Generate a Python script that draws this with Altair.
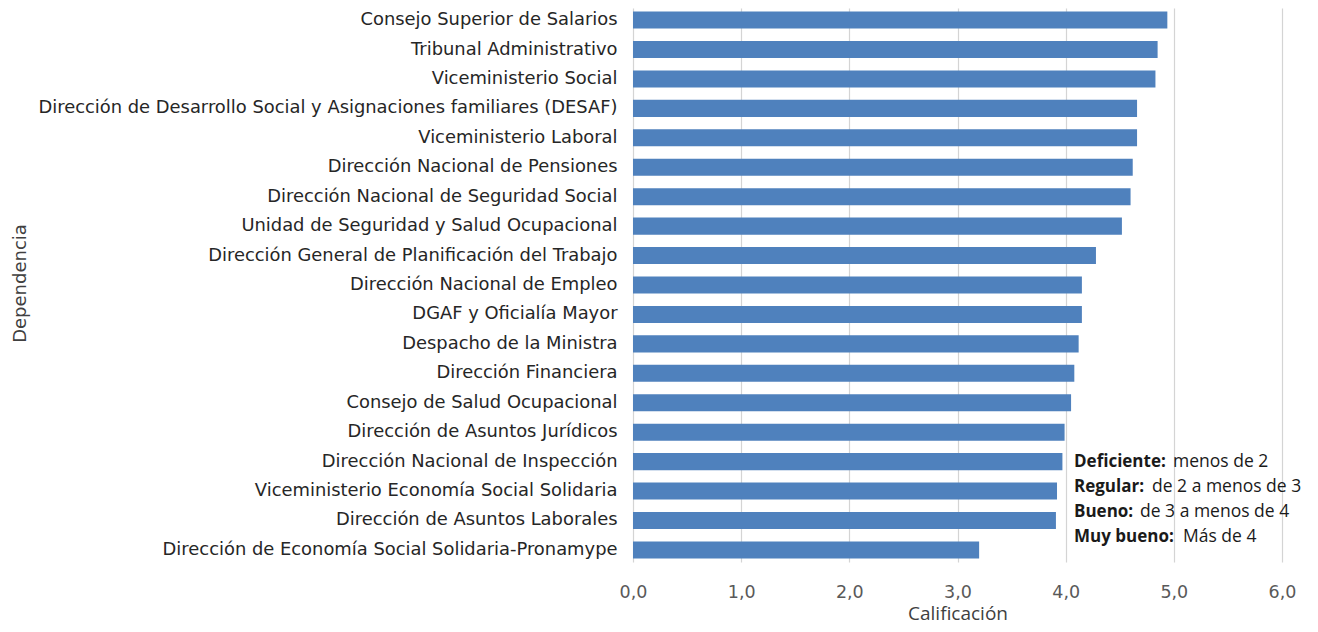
import altair as alt
import pandas as pd

dependencias = [
    "Consejo Superior de Salarios",
    "Tribunal Administrativo",
    "Viceministerio Social",
    "Dirección de Desarrollo Social y Asignaciones familiares (DESAF)",
    "Viceministerio Laboral",
    "Dirección Nacional de Pensiones",
    "Dirección Nacional de Seguridad Social ",
    "Unidad de Seguridad y Salud Ocupacional",
    "Dirección General de Planificación del Trabajo",
    "Dirección Nacional de Empleo",
    "DGAF y Oficialía Mayor",
    "Despacho de la Ministra",
    "Dirección Financiera",
    "Consejo de Salud Ocupacional",
    "Dirección de Asuntos Jurídicos",
    "Dirección Nacional de Inspección",
    "Viceministerio Economía Social Solidaria",
    "Dirección de Asuntos Laborales",
    "Dirección de Economía Social Solidaria-Pronamype",
]
calificacion = [4.94, 4.85, 4.83, 4.66, 4.66, 4.62, 4.60, 4.52, 4.28, 4.15,
                4.15, 4.12, 4.08, 4.05, 3.99, 3.97, 3.92, 3.91, 3.20]

notas_negrita = ["Deficiente:", "Regular:", "Bueno:", "Muy bueno:"]
notas_texto = ["menos de 2", "de 2 a menos de 3", "de 3 a menos de 4", "Más de 4"]
notas_x_texto = [540, 519, 507, 550]

df = pd.DataFrame({"Dependencia": dependencias, "Calificación": calificacion})

W, H = 649, 554

bars = alt.Chart(df).mark_bar(color="#4f81bd").encode(
    x=alt.X(
        "Calificación:Q",
        scale=alt.Scale(domain=[0, 6], nice=False),
        axis=alt.Axis(
            values=[0, 1, 2, 3, 4, 5, 6],
            labelExpr="replace(format(datum.value, '.1f'), '.', ',')",
            grid=True, gridColor="#d4d4d4", gridWidth=1.2,
            domain=False, ticks=False, labelFlush=False,
            labelFont="DejaVu Sans", labelFontSize=17.5, labelColor="#595959",
            labelPadding=21,
            title="Calificación", titleFont="Open Sans", titleFontSize=19,
            titleFontWeight="normal", titleColor="#404040",
            titleY=61, titleAlign="center", titleBaseline="bottom",
        ),
    ),
    y=alt.Y(
        "Dependencia:N",
        sort=dependencias,
        scale=alt.Scale(paddingInner=0.42, paddingOuter=0.12),
        axis=alt.Axis(
            domain=False, ticks=False, grid=False,
            labelFont="DejaVu Sans", labelFontSize=17.9, labelColor="#262626",
            labelPadding=16, labelLimit=700,
            title="Dependencia", titleFont="DejaVu Sans", titleFontSize=18,
            titleFontWeight="normal", titleColor="#404040",
            titleAngle=270, titleX=-613, titleY=275,
            titleAlign="center", titleBaseline="middle",
        ),
    ),
)

layers = [bars]
for i, (b, t, xt) in enumerate(zip(notas_negrita, notas_texto, notas_x_texto)):
    yb = 467 - 8 + i * 25.1
    layers.append(
        alt.Chart(pd.DataFrame({"t": [b]})).mark_text(
            font="Open Sans", fontSize=17, fontWeight="bold", color="#1a1a1a",
            align="left", baseline="alphabetic",
        ).encode(text="t:N", x=alt.value(441), y=alt.value(yb))
    )
    layers.append(
        alt.Chart(pd.DataFrame({"t": [t]})).mark_text(
            font="Open Sans", fontSize=17.5, color="#1a1a1a",
            align="left", baseline="alphabetic",
        ).encode(text="t:N", x=alt.value(xt), y=alt.value(yb))
    )

chart = alt.layer(*layers).properties(
    width=W, height=H,
    autosize=alt.AutoSizeParams(type="none"),
    padding={"left": 625, "top": 0, "right": 28, "bottom": 62},
).configure_view(stroke=None)

chart.save("out.html", embed_options={"renderer": "svg", "actions": False})
